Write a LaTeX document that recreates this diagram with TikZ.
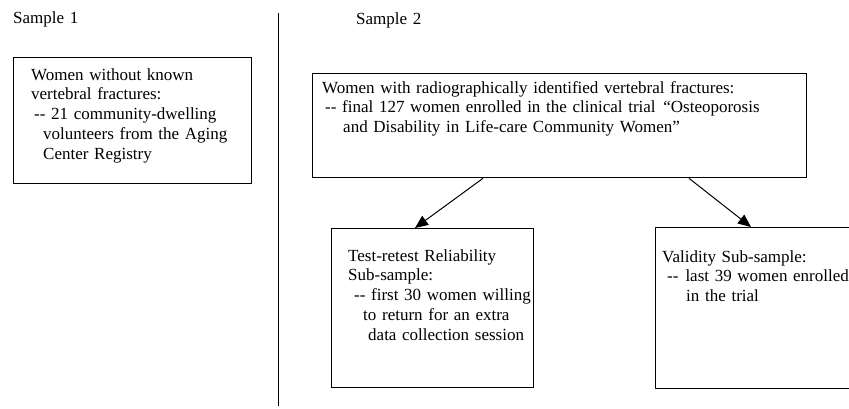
\documentclass[tikz,border=0pt]{standalone}
\usepackage{fontspec}
\setmainfont{Liberation Serif}
\usetikzlibrary{arrows.meta}
\tikzset{
    every node/.style={inner sep=0pt, font=\fontsize{17}{19.8}\selectfont}
}
\tikzset{box/.style={draw, line width=1.3pt, anchor=north west}}
\tikzset{txt/.style={anchor=base west, align=left, text width=#1}}
\tikzset{arr/.style={-{Triangle[length=13pt, width=11pt]}, line width=1pt}}

\begin{document}
\begin{tikzpicture}[x=1pt, y=-1pt]
    \useasboundingbox (0,0) rectangle (849,408);
    \clip (0,0) rectangle (849,408);

    \node (s1lbl) [txt=100pt] at (13,23) {Sample 1};
    \node (s2lbl) [txt=100pt] at (356,24) {Sample 2};

    \draw [line width=1pt] (278,13) -- (278,406);

    \node (s1) [box, minimum width=238pt, minimum height=126pt] at (13,57) {};
    \node (s1text) [txt=220pt] at (31,80) {Women without known\\
        vertebral fractures:\\
        \hspace*{3pt}-{}- 21 community-dwelling\\
        \hspace*{12pt}volunteers from the Aging\\
        \hspace*{12pt}Center Registry};

    \node (trial) [box, minimum width=494pt, minimum height=104pt] at (312,73) {};
    \node (trialtext) [txt=480pt] at (322,93) {Women with radiographically identified vertebral fractures:\\
        \hspace*{3pt}-{}- final 127 women enrolled in the clinical trial \hspace{2pt}“Osteoporosis\\
        \hspace*{21pt}and Disability in Life-care Community Women”};

    \node (retest) [box, minimum width=202pt, minimum height=159pt] at (331,228) {};
    \node (retesttext) [txt=190pt] at (348,261) {Test-retest Reliability\\
        Sub-sample:\\
        \hspace*{6pt}-{}- first 30 women willing\\
        \hspace*{15pt}to return for an extra\\
        \hspace*{20pt}data collection session};

    \node (valid) [box, minimum width=230pt, minimum height=161pt] at (655,227) {};
    \node (validtext) [txt=220pt] at (662,262) {Validity Sub-sample:\\
        \hspace*{5pt}-{}-\hspace{7pt}last 39 women enrolled\\
        \hspace*{24pt}in the trial};

    \draw [arr] ([xshift=171pt]trial.south west) -- ([xshift=84pt]retest.north west);
    \draw [arr] ([xshift=377pt]trial.south west) -- ([xshift=96pt]valid.north west);
\end{tikzpicture}
\end{document}
